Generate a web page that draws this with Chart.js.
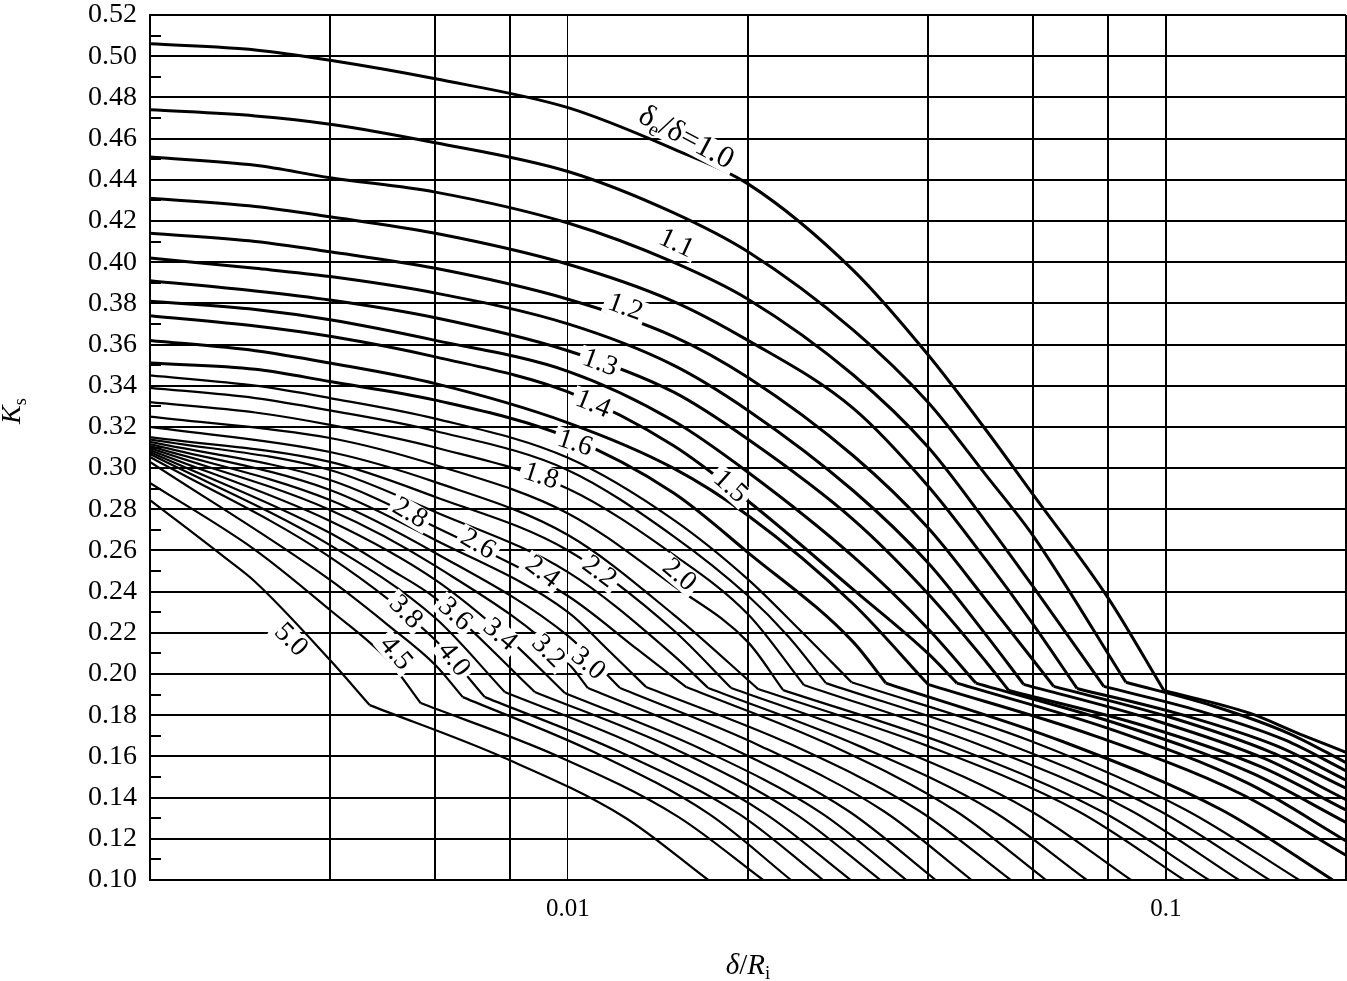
<!DOCTYPE html>
<html>
<head>
<meta charset="utf-8">
<script src="https://cdn.jsdelivr.net/npm/chart.js@4.4.1/dist/chart.umd.min.js"></script>
<style>
  html, body { margin: 0; padding: 0; background: #fff; }
  #wrap { width: 1347px; height: 981px; }
</style>
</head>
<body>
<div id="wrap"><canvas id="ksChart" width="1347" height="981"></canvas></div>
<script>
/* ===== data: [delta/Ri, Ks] ===== */
// names of the curves (delta_e / delta), top to bottom
const ratioNames = ['1.0','1.05','1.1','1.15','1.2','1.25','1.3','1.35','1.4','1.45','1.5','1.6','1.7','1.8','1.9',
  '2.0','2.2','2.4','2.6','2.8','3.0','3.2','3.4','3.6','3.8','4.0','4.2','4.5','5.0'];

// part before the kink (a) and after it (b)
const k100a = [[0.002,0.506],[0.003,0.503],[0.004,0.498],[0.006,0.489],[0.01,0.475],[0.015,0.455],[0.02,0.438],[0.03,0.396],[0.04,0.355],[0.05,0.3185],[0.06,0.287],[0.08,0.237],[0.0992,0.192]];
const k100b = [[0.0992,0.192],[0.138,0.181],[0.167,0.171],[0.2,0.162]];
const k105a = [[0.002,0.474],[0.003,0.471],[0.004,0.467],[0.006,0.458],[0.01,0.444],[0.015,0.424],[0.02,0.405],[0.03,0.367],[0.04,0.332],[0.05,0.2966],[0.06,0.267],[0.0857,0.196]];
const k105b = [[0.0857,0.196],[0.12,0.1845],[0.161,0.171],[0.2,0.157]];
const k110a = [[0.002,0.451],[0.003,0.447],[0.004,0.441],[0.006,0.434],[0.01,0.419],[0.015,0.400],[0.02,0.382],[0.03,0.3452],[0.04,0.3102],[0.05,0.2738],[0.06,0.2423],[0.0787,0.194]];
const k110b = [[0.0787,0.194],[0.114,0.182],[0.158,0.168],[0.2,0.153]];
const k115a = [[0.002,0.431],[0.003,0.427],[0.004,0.422],[0.006,0.414],[0.01,0.399],[0.015,0.381],[0.02,0.362],[0.03,0.329],[0.04,0.2913],[0.05,0.2554],[0.06,0.224],[0.071,0.193]];
const k115b = [[0.071,0.193],[0.107,0.180],[0.1535,0.165],[0.2,0.1485]];
const k120a = [[0.002,0.414],[0.003,0.410],[0.004,0.405],[0.006,0.397],[0.01,0.382],[0.015,0.364],[0.02,0.344],[0.03,0.306],[0.04,0.271],[0.05,0.236],[0.0649,0.194]];
const k120b = [[0.0649,0.194],[0.1016,0.179],[0.15,0.162],[0.2,0.1446]];
const k125a = [[0.002,0.402],[0.003,0.397],[0.004,0.393],[0.006,0.385],[0.01,0.370],[0.015,0.350],[0.02,0.328],[0.03,0.289],[0.04,0.254],[0.05,0.219],[0.0578,0.195]];
const k125b = [[0.0578,0.195],[0.0947,0.178],[0.146,0.159],[0.2,0.139]];
const k130a = [[0.002,0.391],[0.003,0.386],[0.004,0.3816],[0.006,0.373],[0.01,0.357],[0.015,0.337],[0.02,0.314],[0.03,0.275],[0.04,0.239],[0.05,0.206],[0.0546,0.192]];
const k130b = [[0.0546,0.192],[0.0915,0.175],[0.144,0.155],[0.2,0.134]];
const k135a = [[0.002,0.381],[0.003,0.377],[0.004,0.372],[0.006,0.362],[0.01,0.347],[0.015,0.323],[0.02,0.298],[0.03,0.257],[0.04,0.222],[0.0481,0.1956]];
const k135b = [[0.0481,0.1956],[0.0847,0.175],[0.139,0.152],[0.2,0.128]];
const k140a = [[0.002,0.374],[0.003,0.369],[0.004,0.364],[0.006,0.354],[0.01,0.337],[0.015,0.311],[0.02,0.284],[0.03,0.241],[0.04,0.210],[0.0447,0.1956]];
const k140b = [[0.0447,0.1956],[0.0812,0.173],[0.137,0.147],[0.2,0.119]];
const k145a = [[0.002,0.362],[0.003,0.357],[0.004,0.351],[0.006,0.341],[0.01,0.322],[0.015,0.300],[0.02,0.277],[0.03,0.234],[0.04,0.195]];
const k145b = [[0.04,0.195],[0.076,0.170],[0.133,0.142],[0.2,0.112]];
const k150a = [[0.002,0.351],[0.003,0.348],[0.004,0.342],[0.006,0.333],[0.01,0.315],[0.015,0.288],[0.02,0.259],[0.03,0.2155],[0.034,0.1956]];
const k150b = [[0.034,0.1956],[0.0675,0.167],[0.124,0.134],[0.19,0.10]];
const k160a = [[0.002,0.345],[0.003,0.340],[0.004,0.334],[0.006,0.324],[0.01,0.305],[0.015,0.275],[0.02,0.246],[0.0243,0.222],[0.0298,0.196]];
const k160b = [[0.0298,0.196],[0.0594,0.1675],[0.108,0.134],[0.167,0.10]];
const k170a = [[0.002,0.339],[0.003,0.334],[0.004,0.328],[0.006,0.318],[0.01,0.299],[0.015,0.267],[0.02,0.238],[0.0234,0.218],[0.027,0.1956]];
const k170b = [[0.027,0.1956],[0.0533,0.167],[0.097,0.134],[0.149,0.10]];
const k180a = [[0.002,0.332],[0.003,0.327],[0.004,0.321],[0.006,0.310],[0.01,0.290],[0.015,0.258],[0.02,0.229],[0.0248,0.1947]];
const k180b = [[0.0248,0.1947],[0.0484,0.166],[0.087,0.134],[0.1325,0.10]];
const k190a = [[0.002,0.325],[0.004,0.3146],[0.006,0.3015],[0.01,0.278],[0.015,0.243],[0.02,0.2155],[0.0229,0.1922]];
const k190b = [[0.0229,0.1922],[0.0442,0.1646],[0.0784,0.133],[0.118,0.10]];
const k200a = [[0.002,0.320],[0.004,0.3078],[0.006,0.2932],[0.01,0.2675],[0.015,0.229],[0.0208,0.1927]];
const k200b = [[0.0208,0.1927],[0.04,0.165],[0.0712,0.1335],[0.1072,0.10]];
const k220a = [[0.002,0.315],[0.004,0.3030],[0.006,0.2860],[0.01,0.260],[0.015,0.2214],[0.01875,0.1932]];
const k220b = [[0.01875,0.1932],[0.0348,0.165],[0.0594,0.1335],[0.0874,0.10]];
const k240a = [[0.002,0.314],[0.004,0.2991],[0.006,0.2787],[0.01,0.2495],[0.015,0.2092],[0.01716,0.1932]];
const k240b = [[0.01716,0.1932],[0.0307,0.165],[0.0513,0.1335],[0.0737,0.10]];
const k260a = [[0.002,0.3127],[0.004,0.2942],[0.006,0.2714],[0.01,0.2379],[0.0131,0.2117],[0.01577,0.1937]];
const k260b = [[0.01577,0.1937],[0.02747,0.1655],[0.0445,0.1335],[0.063,0.10]];
const k280a = [[0.002,0.3117],[0.004,0.2894],[0.006,0.2651],[0.01,0.2301],[0.01167,0.2117],[0.01351,0.1937]];
const k280b = [[0.01351,0.1937],[0.02373,0.1655],[0.0387,0.1335],[0.055,0.10]];
const k300a = [[0.002,0.3107],[0.004,0.2845],[0.006,0.2588],[0.01,0.2185],[0.01222,0.1932]];
const k300b = [[0.01222,0.1932],[0.021,0.165],[0.0337,0.1335],[0.0473,0.10]];
const k320a = [[0.002,0.3097],[0.004,0.2797],[0.006,0.2525],[0.01,0.2054],[0.0108,0.1932]];
const k320b = [[0.0108,0.1932],[0.01846,0.165],[0.02944,0.1335],[0.0412,0.10]];
const k340a = [[0.002,0.3088],[0.004,0.2743],[0.006,0.2457],[0.008,0.2165],[0.00988,0.1908]];
const k340b = [[0.00988,0.1908],[0.0167,0.1636],[0.02654,0.1325],[0.0368,0.10]];
const k360a = [[0.002,0.3078],[0.004,0.2685],[0.005,0.2515],[0.006,0.2369],[0.0088,0.1913]];
const k360b = [[0.0088,0.1913],[0.015,0.164],[0.0239,0.1325],[0.0333,0.10]];
const k380a = [[0.002,0.3068],[0.004,0.2626],[0.006,0.2272],[0.00784,0.1913]];
const k380b = [[0.00784,0.1913],[0.01335,0.164],[0.0213,0.1325],[0.0297,0.10]];
const k400a = [[0.002,0.3054],[0.004,0.2568],[0.006,0.2165],[0.00726,0.1888]];
const k400b = [[0.00726,0.1888],[0.01222,0.1621],[0.01934,0.132],[0.0267,0.10]];
const k420a = [[0.002,0.303],[0.004,0.2457],[0.005,0.2238],[0.006,0.2044],[0.00667,0.1888]];
const k420b = [[0.00667,0.1888],[0.01105,0.1621],[0.01723,0.132],[0.0236,0.10]];
const k450a = [[0.002,0.2928],[0.003,0.2602],[0.004,0.2311],[0.005,0.2068],[0.00567,0.1859]];
const k450b = [[0.00567,0.1859],[0.0096,0.1602],[0.01522,0.131],[0.0212,0.10]];
const k500a = [[0.002,0.2845],[0.0027,0.2554],[0.003,0.2447],[0.004,0.2068],[0.00466,0.1849]];
const k500b = [[0.00466,0.1849],[0.00784,0.1592],[0.01241,0.1306],[0.01716,0.10]];

const preSegs  = [k100a,k105a,k110a,k115a,k120a,k125a,k130a,k135a,k140a,k145a,k150a,k160a,k170a,k180a,k190a,
  k200a,k220a,k240a,k260a,k280a,k300a,k320a,k340a,k360a,k380a,k400a,k420a,k450a,k500a];
const postSegs = [k100b,k105b,k110b,k115b,k120b,k125b,k130b,k135b,k140b,k145b,k150b,k160b,k170b,k180b,k190b,
  k200b,k220b,k240b,k260b,k280b,k300b,k320b,k340b,k360b,k380b,k400b,k420b,k450b,k500b];

// axis ticks
const xGridVals = [0.002,0.004,0.006,0.008,0.01,0.02,0.04,0.06,0.08,0.1,0.2];
const xTickVals = [0.01, 0.1];
const xTickLabels = ['0.01', '0.1'];

// curve labels on the plot
const labelTexts  = ['1.1','1.2','1.3','1.4','1.6','1.8','1.5','2.0','2.2','2.4','2.6','2.8','3.0','3.2','3.4','3.6','3.8','4.0','4.5','5.0'];
const labelXs     = [0.01517,0.01246,0.01131,0.01101,0.01027,0.00901,0.01868,0.01534,0.01127,0.00905,0.00707,0.00544,0.0108,0.00926,0.00769,0.00647,0.00535,0.00644,0.00515,0.00344];
const labelYs     = [0.409,0.378,0.351,0.331,0.312,0.296,0.291,0.248,0.2495,0.2495,0.263,0.278,0.205,0.211,0.219,0.229,0.230,0.207,0.210,0.2165];
const labelAngles = [25,20,20,22,18,18,42,40,37,37,30,30,40,45,40,42,45,52,50,45];

const SERIF = '"Liberation Serif", "DejaVu Serif", serif';

/* ===== datasets ===== */
function toXY(arr){ return arr.map(p => ({x: p[0], y: p[1]})); }

const datasets = [];
ratioNames.forEach((n, i) => {
  const w = i <= 10 ? 3 : 2.2;
  [preSegs[i], postSegs[i]].forEach(seg => {
    datasets.push({
      label: 'δe/δ=' + n,
      data: toXY(seg),
      borderColor: '#000',
      borderWidth: w,
      pointRadius: 0,
      fill: false,
      cubicInterpolationMode: 'monotone'
    });
  });
});

/* ===== small helpers for text with subscripts ===== */
function richWidth(ctx, parts, size){
  let w = 0;
  parts.forEach(p => {
    ctx.font = (p.it ? 'italic ' : '') + (p.sub ? size*0.65 : size) + 'px ' + SERIF;
    w += ctx.measureText(p.t).width;
  });
  return w;
}
function drawRich(ctx, parts, size, x, y){
  let cx = x;
  parts.forEach(p => {
    ctx.font = (p.it ? 'italic ' : '') + (p.sub ? size*0.65 : size) + 'px ' + SERIF;
    ctx.fillText(p.t, cx, p.sub ? y + size*0.28 : y);
    cx += ctx.measureText(p.t).width;
  });
}

/* ===== plugin: minor ticks, curve labels, axis titles ===== */
const extrasPlugin = {
  id: 'extras',
  afterDatasetsDraw(chart){
    const {ctx, scales:{x, y}, chartArea} = chart;
    ctx.save();
    // minor ticks at odd hundredths
    ctx.strokeStyle = '#000';
    ctx.lineWidth = 2;
    for(let v = 0.11; v < 0.52; v += 0.02){
      const py = Math.round(y.getPixelForValue(v));
      ctx.beginPath();
      ctx.moveTo(chartArea.left, py);
      ctx.lineTo(chartArea.left + 11, py);
      ctx.stroke();
    }
    // labels on the curves
    ctx.textBaseline = 'middle';
    ctx.textAlign = 'left';
    const drawLabel = (parts, size, lx, ly, ang) => {
      const px = x.getPixelForValue(lx);
      const py = y.getPixelForValue(ly);
      const w = richWidth(ctx, parts, size);
      ctx.save();
      ctx.translate(px, py);
      ctx.rotate(ang * Math.PI / 180);
      ctx.fillStyle = '#fff';
      ctx.fillRect(-w/2 - 4, -size*0.42, w + 8, size*0.84);
      ctx.fillStyle = '#000';
      drawRich(ctx, parts, size, -w/2, 0);
      ctx.restore();
    };
    labelTexts.forEach((t, i) => {
      drawLabel([{t}], 28, labelXs[i], labelYs[i], labelAngles[i]);
    });
    drawLabel([{t:'δ'},{t:'e',sub:true},{t:'/δ=1.0'}], 31, 0.01576, 0.4603, 28);
    ctx.restore();
  },
  afterDraw(chart){
    const {ctx} = chart;
    ctx.save();
    ctx.fillStyle = '#000';
    ctx.textBaseline = 'middle';
    ctx.textAlign = 'left';
    // y title  K_s
    const yParts = [{t:'K', it:true},{t:'s', sub:true}];
    const yw = richWidth(ctx, yParts, 28);
    ctx.save();
    ctx.translate(13, 411);
    ctx.rotate(-Math.PI/2);
    drawRich(ctx, yParts, 28, -yw/2, 0);
    ctx.restore();
    // x title  delta/R_i
    const xParts = [{t:'δ', it:true},{t:'/'},{t:'R', it:true},{t:'i', sub:true}];
    const xw = richWidth(ctx, xParts, 29);
    drawRich(ctx, xParts, 29, 748 - xw/2, 966);
    ctx.restore();
  }
};

/* ===== chart ===== */
new Chart(document.getElementById('ksChart'), {
  type: 'line',
  data: { datasets },
  options: {
    responsive: false,
    devicePixelRatio: 1,
    animation: false,
    layout: { padding: { left: 0, top: 15, right: 1, bottom: 0 } },
    plugins: {
      legend: { display: false },
      tooltip: { enabled: false }
    },
    scales: {
      x: {
        type: 'logarithmic',
        min: 0.002,
        max: 0.2,
        afterBuildTicks: s => { s.ticks = xGridVals.map(v => ({ value: v })); },
        afterFit: s => { s.height = 101; s.paddingLeft = 0; s.paddingRight = 0; },
        ticks: {
          autoSkip: false,
          maxRotation: 0,
          padding: 14,
          color: '#000',
          font: { family: SERIF, size: 25 },
          callback: v => {
            const i = xTickVals.findIndex(t => Math.abs(t - v) < 1e-9);
            return i >= 0 ? xTickLabels[i] : '';
          }
        },
        grid: {
          color: '#000',
          drawTicks: false,
          lineWidth: c => (c.tick && Math.abs(c.tick.value - 0.01) < 1e-9) ? 1 : 2
        },
        border: { display: true, color: '#000', width: 2 }
      },
      y: {
        type: 'linear',
        min: 0.10,
        max: 0.52,
        afterFit: s => { s.width = 150; s.paddingTop = 0; s.paddingBottom = 0; },
        ticks: {
          stepSize: 0.02,
          padding: 13,
          color: '#000',
          font: { family: SERIF, size: 28 },
          callback: v => Number(v).toFixed(2)
        },
        grid: { color: '#000', drawTicks: false, lineWidth: 2 },
        border: { display: true, color: '#000', width: 2 }
      }
    }
  },
  plugins: [extrasPlugin]
});
</script>
</body>
</html>
